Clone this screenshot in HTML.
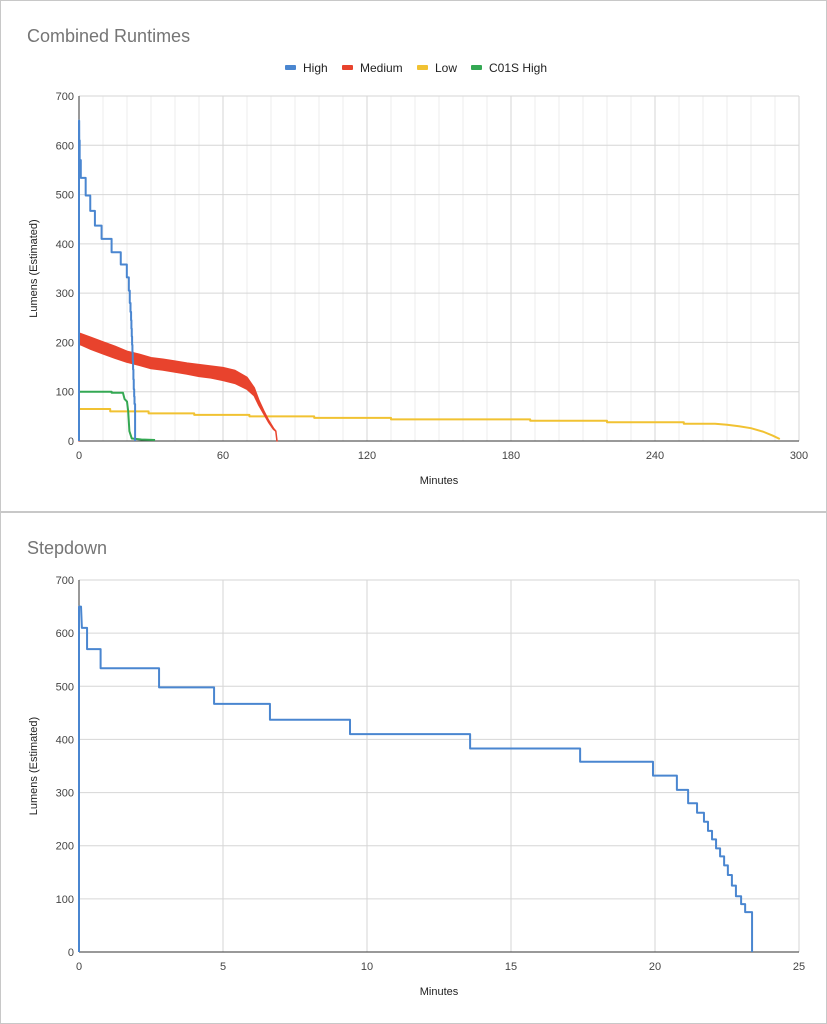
<!DOCTYPE html>
<html><head><meta charset="utf-8"><style>
body{margin:0;background:#fff;}
svg{display:block;font-family:"Liberation Sans",Arial,sans-serif;}
</style></head><body>
<svg id="s" width="827" height="1024" viewBox="0 0 827 1024"></svg>
<script>
// ---- data ----
const stepMinutes=[0,0,0.07,0.1,0.28,0.28,0.75,0.75,2.78,2.78,4.69,4.69,6.63,6.63,9.41,9.41,13.58,13.58,17.4,17.4,19.93,19.93,20.76,20.76,21.15,21.15,21.46,21.46,21.7,21.7,21.84,21.84,21.98,21.98,22.12,22.12,22.26,22.26,22.4,22.4,22.53,22.53,22.67,22.67,22.81,22.81,22.99,22.99,23.13,23.13,23.37,23.37];
const stepLumens=[0,650,650,610,610,570,570,534,534,498,498,467,467,437,437,410,410,383,383,358,358,332,332,305,305,280,280,262,262,245,245,228,228,212,212,195,195,180,180,163,163,145,145,125,125,105,105,90,90,75,75,0];
const medMinutes=[0,0,5,10,15,20,25,30,35,40,45,50,55,60,65,70,73,75,77,79,81,82,82.5];
const medLumens=[0,208,198,189,180,171,165,158,155,151,147,143,140,136,130,117,100,77,58,40,25,20,0];
const medSpread=[0,11,12,12,12,11,11,11,11,11,11,12,12,13,13,12,8,5,3,2,1,0,0];
const lowMinutes=[0,0,13,13,29,29,48,48,71,71,98,98,130,130,188,188,220,220,252,252,265,270,275,280,285,289,292];
const lowLumens=[0,65,65,60,60,56,56,53,53,50,50,47,47,44,44,41,41,38,38,35,35,33,30,26,19,11,4];
const c01Minutes=[0,0,13.6,13.6,18.3,19,20,20.5,21,22,26,31.7];
const c01Lumens=[0,100,100,98,98,85,80,60,20,5,3,2];
const yTicks=[0,100,200,300,400,500,600,700];
const xTicksTop=[0,60,120,180,240,300];
const xTicksBot=[0,5,10,15,20,25];

const NS="http://www.w3.org/2000/svg";
const svg=document.getElementById('s');
function el(t,a,p){const e=document.createElementNS(NS,t);for(const k in a)e.setAttribute(k,a[k]);(p||svg).appendChild(e);return e;}
function txt(x,y,s,a){const e=el('text',Object.assign({x:x,y:y},a));e.textContent=s;return e;}

function chart(o){
  const g=el('g',{});
  
  
  const r=el('rect',{x:o.px+0.5,y:o.py+0.5,width:826,height:o.ph,fill:'#fff',stroke:'#c8c8c8'},g);
  
  
  const t=txt(27,o.py+42,o.title,{fill:'#757575','font-size':18});g.appendChild(t);
  
  
  const X=v=>o.x0+(v-o.xmin)/(o.xmax-o.xmin)*(o.x1-o.x0);
  const Y=v=>o.yb-(v/700)*(o.yb-o.yt);
  for(let v=o.xmin;v<=o.xmax;v+=o.minor){
    const l=el('line',{x1:X(v),x2:X(v),y1:o.yt,y2:o.yb,stroke:'#ececec','stroke-width':1},g);
    
    
  }
  o.xt.forEach(v=>{
    const l=el('line',{x1:X(v),x2:X(v),y1:o.yt,y2:o.yb,stroke:'#d6d6d6','stroke-width':1},g);
    
    
    const tt=txt(X(v),o.yb+18,String(v),{'font-size':11,fill:'#444','text-anchor':'middle'});g.appendChild(tt);
    
    
  });
  yTicks.forEach(v=>{
    const l=el('line',{x1:o.x0,x2:o.x1,y1:Y(v),y2:Y(v),stroke:'#d6d6d6','stroke-width':1},g);
    
    
    const tt=txt(o.x0-5,Y(v)+4,String(v),{'font-size':11,fill:'#444','text-anchor':'end'});g.appendChild(tt);
    
    
  });
  const ax=el('line',{x1:o.x0,x2:o.x0,y1:o.yt,y2:o.yb,stroke:'#333'},g);
  
  
  const bx=el('line',{x1:o.x0,x2:o.x1,y1:o.yb,y2:o.yb,stroke:'#333'},g);
  
  
  const xt=txt((o.x0+o.x1)/2,o.yb+43,'Minutes',{'font-size':11,fill:'#222','text-anchor':'middle'});g.appendChild(xt);
  
  
  const cy=(o.yt+o.yb)/2;
  const yt=txt(37,cy,'Lumens (Estimated)',{'font-size':11,fill:'#222','text-anchor':'middle',transform:'rotate(-90 37 '+cy+')'});g.appendChild(yt);
  
  
  return {g,X,Y};
}
function line(c,xs,ys,color,name){
  const p=el('polyline',{points:xs.map((v,i)=>c.X(v)+','+c.Y(ys[i])).join(' '),fill:'none',stroke:color,'stroke-width':2,'stroke-linejoin':'round'},c.g);
  
  
}

const c1=chart({name:'combined-runtimes-chart',title:'Combined Runtimes',px:0,py:0,ph:511,x0:79,x1:799,yt:96,yb:441,xmin:0,xmax:300,minor:10,xt:xTicksTop});
line(c1,lowMinutes,lowLumens,'#f1c232','series-low');
const up=medMinutes.map((v,i)=>c1.X(v)+','+c1.Y(medLumens[i]+medSpread[i]));
const dn=medMinutes.map((v,i)=>c1.X(v)+','+c1.Y(Math.max(0,medLumens[i]-medSpread[i]))).reverse();
const band=el('polygon',{points:up.concat(dn).join(' '),fill:'#e8432d',stroke:'#e8432d','stroke-width':1.5,'stroke-linejoin':'round'},c1.g);


line(c1,c01Minutes,c01Lumens,'#34a853','series-c01s-high');
line(c1,stepMinutes,stepLumens,'#4a86d0','series-high');

const leg=[['High','#4a86d0',285],['Medium','#e8432d',342],['Low','#f1c232',417],['C01S High','#34a853',471]];
leg.forEach(l=>{
  const r=el('rect',{x:l[2],y:65,width:11,height:5,rx:1,fill:l[1]},c1.g);
  
  
  const t=txt(l[2]+18,72,l[0],{'font-size':12,fill:'#222'});c1.g.appendChild(t);
  
  
});

const c2=chart({name:'stepdown-chart',title:'Stepdown',px:0,py:512,ph:511,x0:79,x1:799,yt:580,yb:952,xmin:0,xmax:25,minor:5,xt:xTicksBot});
line(c2,stepMinutes,stepLumens,'#4a86d0','series-stepdown');
</script>
</body></html>
